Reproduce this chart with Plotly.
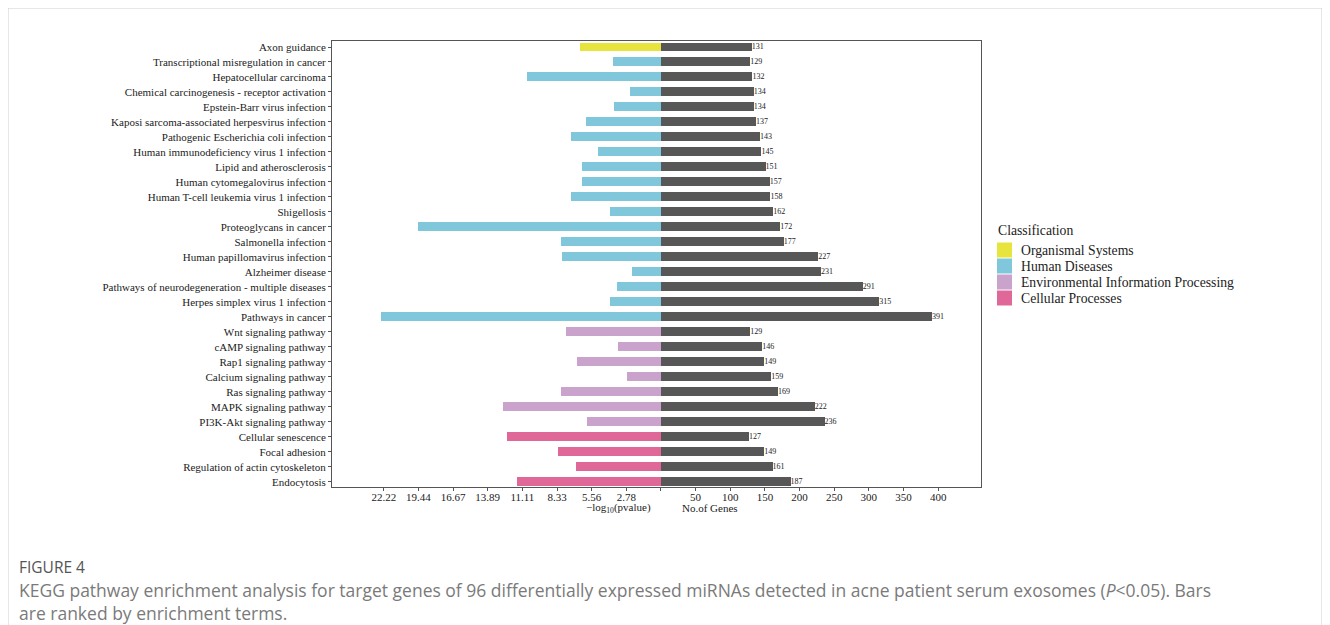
import plotly.graph_objects as go

pathways = [
    "Axon guidance", "Transcriptional misregulation in cancer", "Hepatocellular carcinoma",
    "Chemical carcinogenesis - receptor activation", "Epstein-Barr virus infection",
    "Kaposi sarcoma-associated herpesvirus infection", "Pathogenic Escherichia coli infection",
    "Human immunodeficiency virus 1 infection", "Lipid and atherosclerosis",
    "Human cytomegalovirus infection", "Human T-cell leukemia virus 1 infection", "Shigellosis",
    "Proteoglycans in cancer", "Salmonella infection", "Human papillomavirus infection",
    "Alzheimer disease", "Pathways of neurodegeneration - multiple diseases",
    "Herpes simplex virus 1 infection", "Pathways in cancer", "Wnt signaling pathway",
    "cAMP signaling pathway", "Rap1 signaling pathway", "Calcium signaling pathway",
    "Ras signaling pathway", "MAPK signaling pathway", "PI3K-Akt signaling pathway",
    "Cellular senescence", "Focal adhesion", "Regulation of actin cytoskeleton", "Endocytosis",
]
classification = (["Organismal Systems"] + ["Human Diseases"] * 18
                  + ["Environmental Information Processing"] * 7 + ["Cellular Processes"] * 4)
neg_log10_p = [6.49, 3.85, 10.71, 2.51, 3.77, 6.01, 7.21, 5.07, 6.35, 6.31, 7.24, 4.09, 19.50,
               8.01, 7.96, 2.32, 3.50, 4.06, 22.44, 7.61, 3.42, 6.71, 2.75, 8.04, 12.64, 5.93,
               12.34, 8.28, 6.81, 11.56]
gene_counts = [131, 129, 132, 134, 134, 137, 143, 145, 151, 157, 158, 162, 172, 177, 227, 231,
               291, 315, 391, 129, 146, 149, 159, 169, 222, 236, 127, 149, 161, 187]
class_order = ["Organismal Systems", "Human Diseases", "Environmental Information Processing",
               "Cellular Processes"]
class_colors = ["#E8E43E", "#80C7DC", "#C9A3CB", "#E06898"]
gene_ticks = [50, 100, 150, 200, 250, 300, 350, 400]
SCALE = 18.0  # genes per unit of -log10(p) on the shared axis

serif = "Liberation Serif, Times New Roman, serif"
sans = "Open Sans, Noto Sans, sans-serif"

fig = go.Figure()
ypos = list(range(len(pathways)))

for cls, col in zip(class_order, class_colors):
    idx = [i for i, c in enumerate(classification) if c == cls]
    fig.add_trace(go.Bar(
        x=[-neg_log10_p[i] * SCALE for i in idx], y=[ypos[i] for i in idx],
        orientation="h", marker=dict(color=col, line=dict(width=0)), width=0.6,
        name=cls, showlegend=False, hoverinfo="skip"))

fig.add_trace(go.Bar(
    x=gene_counts, y=ypos, orientation="h", width=0.6,
    marker=dict(color="#575757", line=dict(width=0)), showlegend=False, hoverinfo="skip"))

fig.add_trace(go.Scatter(
    x=gene_counts, y=ypos, mode="text", text=[str(g) for g in gene_counts],
    textposition="middle right", textfont=dict(family=serif, size=8, color="#222"),
    showlegend=False, hoverinfo="skip", cliponaxis=False))

left_vals = [-t for t in gene_ticks]
tickvals = left_vals[::-1] + [0] + gene_ticks
ticktext = ["%.2f" % (t / SCALE) for t in gene_ticks][::-1] + [""] + [str(t) for t in gene_ticks]

OFF = 8  # page body margin offset
W, H = 1330, 625
L, R, T, B = 332 - OFF, 981 - OFF, 41 - OFF, 487 - OFF
pw, ph = R - L, B - T

def px(x):
    return (x - OFF - L) / pw

def py(y):
    return (B - (y - OFF)) / ph

fig.update_layout(
    width=W, height=H, margin=dict(l=L, r=W - R, t=T, b=H - B),
    paper_bgcolor="white", plot_bgcolor="white", barmode="overlay", bargap=0,
    showlegend=False,
    xaxis=dict(range=[-474.7, 461.8], tickvals=tickvals, ticktext=ticktext,
               showgrid=False, zeroline=False, showline=True, mirror=True,
               linecolor="#555", linewidth=1, ticks="outside", ticklen=3, tickcolor="#555",
               ticklabelstandoff=-3,
               tickfont=dict(family=serif, size=11, color="#222")),
    yaxis=dict(range=[29.35, -0.4], tickvals=ypos, ticktext=pathways,
               showgrid=False, zeroline=False, showline=True, mirror=True,
               linecolor="#555", linewidth=1, ticks="outside", ticklen=3, tickcolor="#555",
               tickfont=dict(family=serif, size=11, color="#222")),
)

def note(x, y, text, font, anchor="left"):
    return dict(xref="paper", yref="paper", x=px(x), y=py(y), text=text, showarrow=False,
                xanchor=anchor, yanchor="middle", font=font, align="left")

annotations = [
    note(618.5, 508, "\u2212log<sub>10</sub>(pvalue)", dict(family=serif, size=11, color="#222"), "center"),
    note(710, 508, "No.of Genes", dict(family=serif, size=11, color="#222"), "center"),
    note(996, 230, "Classification", dict(family=serif, size=13.7, color="#222")),
    note(17, 567, "FIGURE 4", dict(family=sans, size=15.5, color="#555")),
    note(17, 601.5, "KEGG pathway enrichment analysis for target genes of 96 differentially expressed "
                    "miRNAs detected in acne patient serum exosomes (<i>P</i>&lt;0.05). Bars"
                    "<br>are ranked by enrichment terms.",
         dict(family=sans, size=17.5, color="#7a7a7a")),
]
shapes = [
    dict(type="rect", xref="paper", yref="paper", x0=px(8), x1=px(1322), y0=py(660), y1=py(8),
         line=dict(color="#cfcfcf", width=1), fillcolor="rgba(0,0,0,0)", layer="below"),
]
for k, (cls, col) in enumerate(zip(class_order, class_colors)):
    yc = 250 + 16 * k
    shapes.append(dict(type="rect", xref="paper", yref="paper",
                       x0=px(997), x1=px(1012), y0=py(yc + 7.5), y1=py(yc - 7.5),
                       fillcolor=col, line=dict(width=0)))
    annotations.append(note(1019, yc, cls, dict(family=serif, size=13.7, color="#222")))

fig.update_layout(annotations=annotations, shapes=shapes)
fig.write_html("out.html")
